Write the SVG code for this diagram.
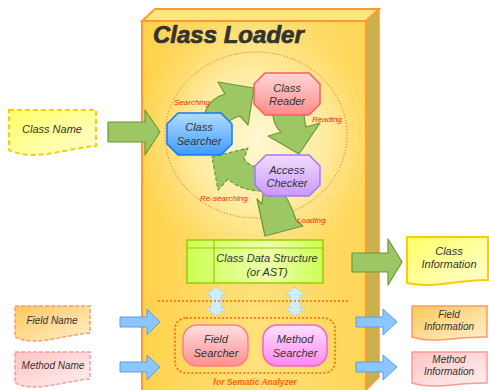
<svg xmlns="http://www.w3.org/2000/svg" width="489" height="390" viewBox="0 0 489 390">
<defs>
<linearGradient id="gFront" x1="0" y1="0" x2="1" y2="0">
<stop offset="0" stop-color="#ffd24a"/><stop offset="0.5" stop-color="#ffe07a"/><stop offset="1" stop-color="#ffd656"/>
</linearGradient>
<radialGradient id="gGlow" gradientUnits="userSpaceOnUse" cx="258" cy="140" r="125">
<stop offset="0" stop-color="#fff8d2" stop-opacity="1"/><stop offset="0.55" stop-color="#fff0b0" stop-opacity="0.8"/><stop offset="1" stop-color="#ffe07a" stop-opacity="0"/>
</radialGradient>
<linearGradient id="gBlue" x1="0" y1="0" x2="0" y2="1">
<stop offset="0" stop-color="#b3dcff"/><stop offset="1" stop-color="#3d9cff"/>
</linearGradient>
<linearGradient id="gRed" x1="0" y1="0" x2="0" y2="1">
<stop offset="0" stop-color="#ffd6d6"/><stop offset="1" stop-color="#ff8c8c"/>
</linearGradient>
<linearGradient id="gPurple" x1="0" y1="0" x2="0" y2="1">
<stop offset="0" stop-color="#f2dcff"/><stop offset="1" stop-color="#c999ff"/>
</linearGradient>
<linearGradient id="gPink" x1="0" y1="0" x2="0" y2="1">
<stop offset="0" stop-color="#ffe0e0"/><stop offset="1" stop-color="#ff8f8f"/>
</linearGradient>
<linearGradient id="gMagenta" x1="0" y1="0" x2="0" y2="1">
<stop offset="0" stop-color="#ffe0ff"/><stop offset="1" stop-color="#ff88ee"/>
</linearGradient>
<linearGradient id="gData" x1="0" y1="0" x2="1" y2="0">
<stop offset="0" stop-color="#ccff55"/><stop offset="0.6" stop-color="#eeffaa"/><stop offset="1" stop-color="#ccff55"/>
</linearGradient>
<linearGradient id="gYellow" x1="0" y1="0" x2="1" y2="1">
<stop offset="0" stop-color="#ffff66"/><stop offset="1" stop-color="#ffffd0"/>
</linearGradient>
<linearGradient id="gOrange" x1="0" y1="0" x2="1" y2="1">
<stop offset="0" stop-color="#ffc85a"/><stop offset="1" stop-color="#fff0cc"/>
</linearGradient>
<linearGradient id="gRose" x1="0" y1="0" x2="1" y2="1">
<stop offset="0" stop-color="#ffc4c4"/><stop offset="1" stop-color="#fff0f0"/>
</linearGradient>
</defs>
<style>
.t{font-family:"Liberation Sans",Arial,sans-serif;font-style:italic;fill:#333;text-anchor:middle;font-size:11px}
.s{font-size:10px}
.lbl{font-family:"Liberation Sans",Arial,sans-serif;font-style:italic;fill:#ff2a00;font-size:8px}
.garrow{fill:#9cc764;stroke:#6a9a36;stroke-width:1.2;stroke-linejoin:round}
.barrow{fill:#8cc6ff;stroke:#5a9ee6;stroke-width:1}
.darrow{fill:#cdeeff;stroke:#9fd0f0;stroke-width:1;stroke-dasharray:3,2}
.dot{fill:none;stroke:#ff6600;stroke-width:1.6;stroke-dasharray:2,2}
</style>

<g id="class-loader">
<polygon points="142,21 155,9 379,9 366,21" fill="#ffe680" stroke="#ff9933" stroke-width="2"/>
<polygon points="366,21 379,9 379,377 366,390" fill="#c8b24e" stroke="#ff9933" stroke-width="1.5"/>
<rect x="142" y="21" width="224" height="372" fill="url(#gFront)" stroke="#ff9933" stroke-width="2"/>
<rect x="143" y="22" width="222" height="240" fill="url(#gGlow)"/>
<text x="153" y="43" font-family="'Liberation Sans',Arial,sans-serif" font-weight="bold" font-style="italic" font-size="24" fill="#333" stroke="#333" stroke-width="0.7">Class Loader</text>
<ellipse cx="256" cy="135" rx="91" ry="83" fill="none" stroke="#ff5522" stroke-width="1" stroke-dasharray="1,2"/>
</g>

<g id="connectors">
<path class="garrow" d="M108,122 L145,122 L145,110 L160,132 L145,155 L145,142 L108,142 Z"/>
<path class="garrow" d="M203,122 C205,106 212,98 225,94 L218,82 L254,88 L248,125 L240,116 C232,118 228,121 226,128 Z"/>
<path class="garrow" d="M272,110 C273,121 276,128 281,132 L268,136 L299,154 L320,123 L306,127 C304,120 304,115 304,110 Z"/>
<path class="garrow" d="M262,168 C252,167 246,163 244,158 L248,148 L212,157 L218,190 L228,179 C238,188 250,191 262,191 Z" stroke-dasharray="4,2"/>
<path class="garrow" d="M263,194 L262,204 L257,199 L265,236 L303,226 L296,220 C293,210 288,200 284,194 Z"/>
<path class="garrow" d="M352,253 L388,253 L388,239 L402,262 L388,285 L388,272 L352,272 Z"/>
<path class="barrow" d="M120,317 L147,317 L147,309 L160,322 L147,335 L147,327 L120,327 Z"/>
<path class="barrow" d="M120,362 L147,362 L147,355 L160,367 L147,380 L147,372 L120,372 Z"/>
<path class="barrow" d="M356,317 L383,317 L383,309 L397,322 L383,335 L383,327 L356,327 Z"/>
<path class="barrow" d="M356,362 L383,362 L383,355 L397,367 L383,380 L383,372 L356,372 Z"/>
<path class="darrow" d="M216,287 L226,295 L221,295 L221,308 L226,308 L216,316 L206,308 L211,308 L211,295 L206,295 Z"/>
<path class="darrow" d="M295,287 L305,295 L300,295 L300,308 L305,308 L295,316 L285,308 L290,308 L290,295 L285,295 Z"/>
<line class="dot" x1="158" y1="301" x2="350" y2="301"/>
<rect class="dot" x="175" y="318" width="160" height="55" rx="11"/>
<text class="lbl" x="174" y="105">Searching</text>
<text class="lbl" x="312" y="122">Reading</text>
<text class="lbl" x="200" y="201">Re-searching</text>
<text class="lbl" x="297" y="223">Loading</text>
<text x="255" y="385" font-family="'Liberation Sans',Arial,sans-serif" font-weight="bold" font-style="italic" font-size="8.5" fill="#ff6600" text-anchor="middle">for Sematic Analyzer</text>
</g>

<g id="class-searcher">
<polygon points="178,113 221,113 232,124 232,144 221,155 178,155 167,144 167,124" fill="url(#gBlue)" stroke="#1a75ff" stroke-width="1.5"/>
<text class="t" x="199" y="131">Class</text>
<text class="t" x="199" y="145">Searcher</text>
</g>
<g id="class-reader">
<polygon points="265,73 309,73 320,84 320,104 309,115 265,115 254,104 254,84" fill="url(#gRed)" stroke="#ff5c5c" stroke-width="1.5"/>
<text class="t" x="287" y="92">Class</text>
<text class="t" x="287" y="105">Reader</text>
</g>
<g id="access-checker">
<polygon points="266,155 309,155 320,166 320,185 309,196 266,196 255,185 255,166" fill="url(#gPurple)" stroke="#a875ff" stroke-width="1.5"/>
<text class="t" x="287" y="174">Access</text>
<text class="t" x="287" y="187">Checker</text>
</g>
<g id="class-data-structure">
<rect x="187" y="240" width="136" height="43" fill="url(#gData)" stroke="#99cc00" stroke-width="1.5"/>
<line x1="187" y1="248" x2="323" y2="248" stroke="#99cc00" stroke-width="1.2"/>
<line x1="214" y1="240" x2="214" y2="283" stroke="#99cc00" stroke-width="1.2"/>
<text class="t" x="267" y="262">Class Data Structure</text>
<text class="t" x="267" y="276">(or AST)</text>
</g>
<g id="field-searcher">
<rect x="183" y="325" width="65" height="41" rx="14" fill="url(#gPink)" stroke="#ff8080" stroke-width="1.5"/>
<text class="t" x="216" y="343">Field</text>
<text class="t" x="216" y="357">Searcher</text>
</g>
<g id="method-searcher">
<rect x="263" y="325" width="64" height="41" rx="14" fill="url(#gMagenta)" stroke="#ee66cc" stroke-width="1.5"/>
<text class="t" x="295" y="343">Method</text>
<text class="t" x="295" y="357">Searcher</text>
</g>

<g id="class-name">
<path d="M9,110 L96,110 L96,146 C80,147 50,155 33,155 C22,155 14,152 9,150 Z" fill="url(#gYellow)" stroke="#ffcc00" stroke-width="2" stroke-dasharray="5,3"/>
<text class="t" x="52" y="133">Class Name</text>
</g>
<g id="field-name">
<path d="M15,306 L90,306 L90,333 C75,334 50,341 33,341 C24,341 19,339 15,337 Z" fill="url(#gOrange)" stroke="#ff9966" stroke-width="1.5" stroke-dasharray="4,2"/>
<text class="t s" x="52" y="324">Field Name</text>
</g>
<g id="method-name">
<path d="M15,352 L90,352 L90,379 C75,380 50,387 33,387 C24,387 19,385 15,383 Z" fill="url(#gRose)" stroke="#ff9999" stroke-width="1.5" stroke-dasharray="4,2"/>
<text class="t s" x="53" y="369">Method Name</text>
</g>
<g id="class-information">
<path d="M407,237 L488,237 L488,280 C470,279 450,284 430,285 C420,285 412,284 407,283 Z" fill="url(#gYellow)" stroke="#ffcc00" stroke-width="2"/>
<text class="t" x="449" y="255">Class</text>
<text class="t" x="449" y="268">Information</text>
</g>
<g id="field-information">
<path d="M412,306 L487,306 L487,337 C470,336 450,340 432,340 C422,340 416,338 412,337 Z" fill="url(#gOrange)" stroke="#ff9966" stroke-width="1.5"/>
<text class="t s" x="449" y="318">Field</text>
<text class="t s" x="449" y="330">Information</text>
</g>
<g id="method-information">
<path d="M412,352 L487,352 L487,383 C470,382 450,386 432,386 C422,386 416,384 412,383 Z" fill="url(#gRose)" stroke="#ff9999" stroke-width="1.5"/>
<text class="t s" x="449" y="363">Method</text>
<text class="t s" x="449" y="375">Information</text>
</g>
</svg>
